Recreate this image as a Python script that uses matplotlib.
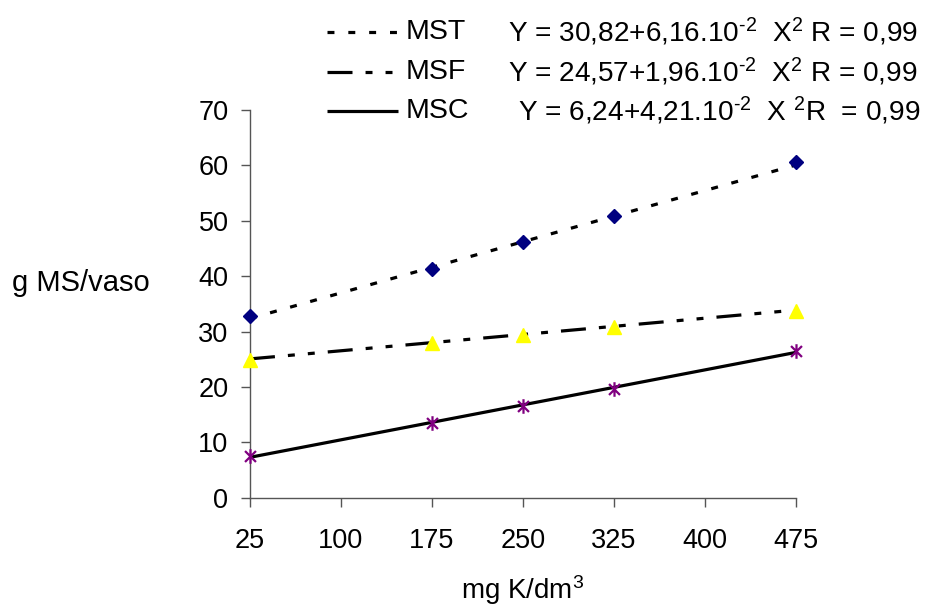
import numpy as np
import matplotlib
matplotlib.use("Agg")
import matplotlib.pyplot as plt
from matplotlib.lines import Line2D
from matplotlib.path import Path

plt.rcParams["font.family"] = ["Liberation Sans", "DejaVu Sans"]
plt.rcParams["mathtext.fontset"] = "custom"
plt.rcParams["mathtext.rm"] = "Liberation Sans"
plt.rcParams["mathtext.it"] = "Liberation Sans"
plt.rcParams["lines.scale_dashes"] = False

# Potassium doses (mg K/dm3) and dry matter per pot (g)
doses = [25, 175, 250, 325, 475]
mst = [32.8, 41.3, 46.1, 50.9, 60.6]
msf = [24.9, 28.0, 29.4, 30.9, 33.7]
msc = [7.6, 13.4, 16.5, 19.6, 26.5]

series_names = ["MST", "MSF", "MSC"]
intercepts = [30.82, 24.57, 6.24]
slopes = [6.16e-2, 1.96e-2, 4.21e-2]
equations = [
    r"Y = 30,82+6,16.10$^{\text{-}2}$  X$^{2}$ R = 0,99",
    r"Y = 24,57+1,96.10$^{\text{-}2}$  X$^{2}$ R = 0,99",
    r"Y = 6,24+4,21.10$^{\text{-}2}$  X $^{2}$R  = 0,99",
]

xticks = [25, 100, 175, 250, 325, 400, 475]
yticks = [0, 10, 20, 30, 40, 50, 60, 70]

dash_mst = (0, (5, 10))
dash_msf = (0, (18, 9.4, 5, 9.4, 5, 9.4))
line_styles = [dash_mst, dash_msf, "-"]

# six-armed asterisk marker
star = Path(
    [(0, -1), (0, 1), (-0.75, -0.75), (0.75, 0.75), (-0.75, 0.75), (0.75, -0.75)],
    [Path.MOVETO, Path.LINETO, Path.MOVETO, Path.LINETO, Path.MOVETO, Path.LINETO],
)

fig = plt.figure(figsize=(9.3, 6.07), dpi=100)
ax = fig.add_axes([250 / 930, 1 - 497.7 / 607, (796 - 250) / 930, (497.7 - 110) / 607])

xfit = np.array([doses[0], doses[-1]], dtype=float)
for a, b, ls in zip(intercepts, slopes, line_styles):
    ax.plot(xfit, a + b * xfit, color="black", lw=2.3, linestyle=ls,
            solid_capstyle="butt", dash_capstyle="butt", zorder=2)

ax.plot(doses, mst, linestyle="none", marker="D", ms=7, color="#000080",
        mec="#000080", zorder=3, clip_on=False)
ax.plot(doses, msf, linestyle="none", marker="^", ms=10, color="#FFFF00",
        mec="#FFFF00", zorder=3, clip_on=False)
ax.plot(doses, msc, linestyle="none", marker=star, ms=10.5, mew=1.6,
        color="#800080", mec="#800080", zorder=3, clip_on=False)

ax.set_xlim(25, 475)
ax.set_ylim(0, 70)
ax.set_xticks(xticks)
ax.set_yticks(yticks)
ax.spines["top"].set_visible(False)
ax.spines["right"].set_visible(False)
for s in ("left", "bottom"):
    ax.spines[s].set_color("#555555")
    ax.spines[s].set_linewidth(1.0)
ax.tick_params(axis="both", direction="out", length=6.5, width=1.0,
               color="#555555", labelsize=19.5, labelcolor="black")
ax.tick_params(axis="x", pad=15)
ax.tick_params(axis="y", pad=9)

fig.text(523 / 930, 1 - 590 / 607, r"mg K/dm$^{3}$", ha="center", va="center", fontsize=20)
fig.text(12 / 930, 1 - 283 / 607, "g MS/vaso", ha="left", va="center", fontsize=21)

# legend block above the plot
rows_y = [32, 72, 111]
eq_x = [508, 508, 518]
for name, ls, eq, ry, ex in zip(series_names, line_styles, equations, rows_y, eq_x):
    yf = 1 - ry / 607
    fig.add_artist(Line2D([327 / 930, 398 / 930], [yf, yf], transform=fig.transFigure,
                          color="black", lw=2.3, linestyle=ls,
                          solid_capstyle="butt", dash_capstyle="butt"))
    fig.text(406 / 930, yf, name, ha="left", va="center", fontsize=20.5)
    fig.text(ex / 930, yf, eq, ha="left", va="center", fontsize=20.2)

fig.savefig("out.png", dpi=100)
